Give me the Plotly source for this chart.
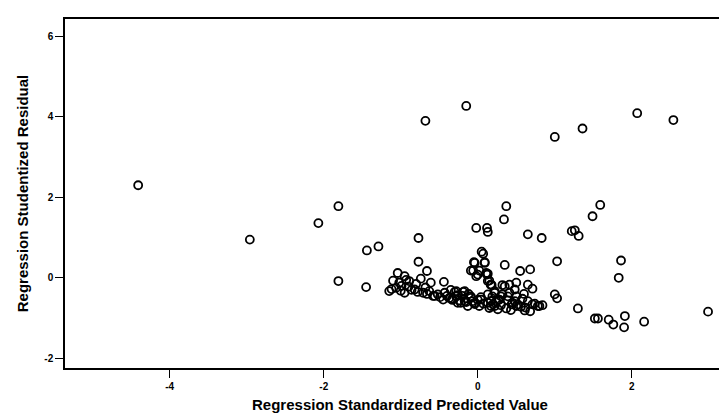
import plotly.graph_objects as go

# Regression standardized predicted value (x) and studentized residual (y)
pred = [
    -4.41, -2.96, -2.07, -1.81, -1.81, -1.44, -1.29, -0.77, -0.77, -1.45,
    -0.68, -0.15, 1.00, 1.36, 2.07, 2.54,
    -0.02, 0.12, 0.13, 0.37, 0.34, 0.65, 0.83, 1.03, 0.35, 0.55, 0.68,
    0.05, 0.07, -0.05, 0.09, -0.09, 0.02, -0.02, 0.12, 0.15, 0.18,
    1.59, 1.49, 1.22, 1.26, 1.31, 1.86, 1.83, 2.99, 1.00, 1.03, 1.30,
    1.52, 1.56, 1.70, 1.76, 1.91, 1.90, 2.16,
    -0.66, -1.04, -0.95, -1.10, -1.02, -0.89, -0.74, -0.61, -0.44,
    -1.15, -1.06, -0.95, -0.82, -0.71, -0.63, -0.52, -0.43, -0.45, -0.37,
    -0.28, -0.26, -0.22, -0.17, -0.13, -0.09, -0.04, 0.04, 0.02, 0.13,
    0.15, 0.22, 0.19, 0.17, 0.09, -0.04, -0.06, 0.00, 0.11, 0.13, 0.22,
    0.13, 0.17, 0.32, 0.41, 0.50, 0.65, 0.71, 0.13, 0.22, 0.32, 0.41,
    0.50, 0.17, 0.28, 0.39, 0.52, 0.65, 0.71, 0.84, 0.17, 0.37, 0.50,
    0.61, 0.68, 0.78, -0.30, -0.28, -0.19, -0.17, -0.26, -0.09, -0.04,
    0.04, 0.24, 0.30, 0.39, 0.48, 0.35, 0.48, 0.58,
    -0.99, -0.86, -0.56, -0.33, -0.12, 0.27, 0.45, 0.60,
    -1.12, -1.00, -0.90, -0.78, -0.66, -0.58, -0.49, -0.40, -0.33, -0.24,
    -0.15, -0.07, 0.07, 0.20, 0.30, 0.44, 0.56, 0.62, 0.74, 0.80,
    -0.93, -0.80, -0.68, -0.35, -0.20, 0.00, 0.26, 0.43,
]
resid = [
    2.30, 0.95, 1.36, 1.78, -0.08, 0.68, 0.78, 0.99, 0.40, -0.23,
    3.90, 4.27, 3.50, 3.71, 4.09, 3.92,
    1.24, 1.24, 1.14, 1.78, 1.45, 1.08, 0.99, 0.41, 0.32, 0.17, 0.21,
    0.65, 0.60, 0.39, 0.39, 0.18, 0.18, 0.04, 0.08, -0.07, -0.18,
    1.81, 1.53, 1.16, 1.18, 1.04, 0.43, 0.00, -0.84, -0.41, -0.51, -0.76,
    -1.01, -1.01, -1.04, -1.16, -0.95, -1.23, -1.09,
    0.17, 0.12, 0.04, -0.07, -0.12, -0.08, -0.02, -0.12, -0.10,
    -0.33, -0.25, -0.37, -0.29, -0.37, -0.33, -0.41, -0.37, -0.54, -0.50,
    -0.33, -0.43, -0.62, -0.33, -0.70, -0.46, -0.62, -0.54, -0.70, -0.62,
    -0.75, -0.70, -0.46, -0.17, 0.37, 0.37, 0.18, 0.08, 0.12, -0.08, -0.33,
    0.10, -0.17, -0.18, -0.17, -0.12, -0.17, -0.27, -0.41, -0.37, -0.41, -0.37,
    -0.46, -0.58, -0.54, -0.56, -0.66, -0.58, -0.66, -0.68, -0.70, -0.76, -0.70,
    -0.81, -0.83, -0.70, -0.35, -0.46, -0.35, -0.58, -0.62, -0.50, -0.65,
    -0.48, -0.58, -0.46, -0.46, -0.58, -0.21, -0.29, -0.52,
    -0.20, -0.30, -0.45, -0.55, -0.40, -0.55, -0.62, -0.40,
    -0.28, -0.32, -0.22, -0.35, -0.40, -0.45, -0.48, -0.45, -0.52, -0.56,
    -0.60, -0.58, -0.64, -0.66, -0.68, -0.66, -0.72, -0.74, -0.64, -0.70,
    -0.05, -0.15, -0.24, -0.30, -0.45, -0.55, -0.78, -0.80,
]

x_ticks = [-4, -2, 0, 2]
y_ticks = [-2, 0, 2, 4, 6]

fig = go.Figure(go.Scatter(
    x=pred, y=resid, mode="markers",
    marker=dict(symbol="circle-open", size=8, color="black",
                line=dict(width=1.8, color="black")),
    hoverinfo="skip",
))

font_fam = "Liberation Sans, Arial, sans-serif"
fig.update_layout(
    width=727, height=420,
    margin=dict(l=57, r=0, t=11, b=60),
    paper_bgcolor="white", plot_bgcolor="white",
    showlegend=False,
    font=dict(family=font_fam, color="black"),
    xaxis=dict(
        range=[-5.36, 3.34], tickvals=x_ticks,
        ticktext=[str(v) for v in x_ticks],
        showgrid=False, zeroline=False,
        showline=True, linecolor="black", linewidth=1.5, mirror=True,
        ticks="outside", ticklen=8, tickcolor="black", tickwidth=1.2,
        tickfont=dict(size=10, family=font_fam, weight="bold"),
        title=dict(text="<b>Regression Standardized Predicted Value</b>",
                   font=dict(size=15, family=font_fam), standoff=9),
    ),
    yaxis=dict(
        range=[-2.24, 6.43], tickvals=y_ticks,
        ticktext=[str(v) for v in y_ticks],
        showgrid=False, zeroline=False,
        showline=True, linecolor="black", linewidth=1.5,
        ticks="outside", ticklen=8, tickcolor="black", tickwidth=1.2,
        tickfont=dict(size=10, family=font_fam, weight="bold"),
        title=dict(text="<b>Regression Studentized Residual</b>",
                   font=dict(size=15, family=font_fam), standoff=12),
    ),
)

fig.write_html("out.html")
